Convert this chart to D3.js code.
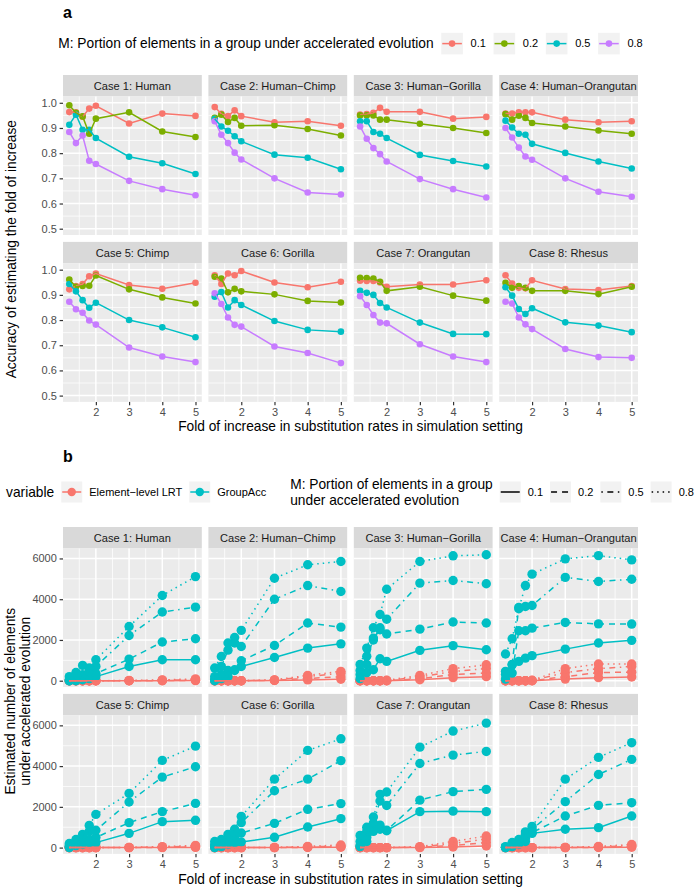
<!DOCTYPE html>
<html><head><meta charset="utf-8">
<script src="https://cdn.jsdelivr.net/npm/d3@7"></script>
<style>body{margin:0;background:#fff}svg{display:block}</style>
</head><body><svg id="c" width="700" height="888"></svg>
<script>
// ---------------- data ----------------
const xFold = [1.2, 1.4, 1.6, 1.8, 2, 3, 4, 5];
const xTicks = [2, 3, 4, 5];
const xMinor = [1.5, 2.5, 3.5, 4.5];
const caseLabels = ["Case 1: Human", "Case 2: Human\u2212Chimp", "Case 3: Human\u2212Gorilla", "Case 4: Human\u2212Orangutan",
  "Case 5: Chimp", "Case 6: Gorilla", "Case 7: Orangutan", "Case 8: Rhesus"];
const mLevels = ["0.1", "0.2", "0.5", "0.8"];
const variableLevels = ["Element\u2212level LRT", "GroupAcc"];
const accTicks = [0.5, 0.6, 0.7, 0.8, 0.9, 1.0];
const accMinor = [0.55, 0.65, 0.75, 0.85, 0.95];
const countTicks = [0, 2000, 4000, 6000];
const countMinor = [1000, 3000, 5000];
const xTitle = "Fold of increase in substitution rates in simulation setting";
const accTitle = "Accuracy of estimating the fold of increase";
const countTitle = ["Estimated number of elements", "under accelerated evolution"];
const mTitleA = "M: Portion of elements in a group under accelerated evolution";
const mTitleB = ["M: Portion of elements in a group", "under accelerated evolution"];

// panel a: accuracy, rows = M 0.1, 0.2, 0.5, 0.8
const accCase1 = [[0.963,0.962,0.945,0.977,0.988,0.918,0.957,0.948],[0.990,0.960,0.946,0.877,0.937,0.962,0.886,0.864],[0.913,0.953,0.893,0.893,0.860,0.786,0.760,0.717],[0.884,0.840,0.870,0.770,0.757,0.690,0.657,0.633]];
const accCase2 = [[0.983,0.956,0.947,0.970,0.947,0.923,0.927,0.909],[0.940,0.953,0.924,0.940,0.909,0.911,0.896,0.870],[0.936,0.906,0.889,0.867,0.847,0.794,0.782,0.736],[0.927,0.873,0.840,0.802,0.775,0.700,0.644,0.636]];
const accCase3 = [[0.953,0.955,0.960,0.980,0.964,0.964,0.937,0.944],[0.950,0.950,0.950,0.933,0.933,0.917,0.900,0.880],[0.927,0.927,0.884,0.877,0.860,0.793,0.769,0.747],[0.906,0.857,0.820,0.796,0.767,0.697,0.657,0.624]];
const accCase4 = [[0.957,0.957,0.962,0.962,0.962,0.933,0.923,0.927],[0.955,0.933,0.949,0.940,0.920,0.906,0.890,0.877],[0.929,0.902,0.877,0.873,0.837,0.801,0.767,0.739],[0.900,0.862,0.822,0.787,0.774,0.700,0.647,0.627]];
const accCase5 = [[0.922,0.935,0.943,0.974,0.985,0.939,0.924,0.948],[0.961,0.932,0.935,0.936,0.977,0.922,0.890,0.866],[0.943,0.914,0.879,0.849,0.869,0.800,0.771,0.732],[0.873,0.843,0.829,0.798,0.782,0.691,0.655,0.633]];
const accCase6 = [[0.978,0.943,0.985,0.978,0.995,0.949,0.930,0.952],[0.972,0.965,0.910,0.924,0.914,0.902,0.876,0.870],[0.893,0.911,0.850,0.879,0.860,0.796,0.761,0.754],[0.906,0.864,0.810,0.781,0.774,0.695,0.669,0.629]];
const accCase7 = [[0.956,0.955,0.955,0.949,0.932,0.941,0.941,0.958],[0.968,0.967,0.965,0.952,0.916,0.932,0.897,0.877],[0.916,0.908,0.900,0.868,0.850,0.790,0.745,0.744],[0.895,0.860,0.820,0.790,0.787,0.704,0.655,0.633]];
const accCase8 = [[0.978,0.945,0.928,0.926,0.958,0.923,0.919,0.935],[0.948,0.928,0.935,0.928,0.916,0.916,0.903,0.932],[0.930,0.897,0.844,0.824,0.847,0.791,0.778,0.752],[0.873,0.866,0.810,0.783,0.764,0.685,0.653,0.650]];

// panel b: GroupAcc counts, rows = M 0.1, 0.2, 0.5, 0.8
const grpCase1 = [[0,0,50,100,200,700,1030,1030],[0,100,200,300,350,1060,1900,2060],[50,200,300,450,700,2220,3370,3610],[200,400,750,620,1030,2660,4180,5110]];
const grpCase2 = [[0,100,200,500,700,1140,1600,1810],[50,300,500,540,980,1730,2830,2630],[200,700,1500,1850,1680,4000,4670,4380],[620,1190,1850,2120,2470,5030,5690,5850]];
const grpCase3 = [[100,400,540,1080,950,1490,1720,1520],[300,800,2090,2500,2290,2530,2880,2830],[500,1200,2000,2600,3020,4790,4920,4760],[800,1600,2600,3250,4490,5850,6130,6180]];
const grpCase4 = [[460,780,950,1110,1230,1550,1850,1980],[80,375,2450,2450,2580,2860,2790,2780],[300,800,3600,3640,3690,5070,4870,4980],[1310,2060,3530,4670,5230,5980,6140,5930]];
const grpCase5 = [[0,100,150,200,245,700,1275,1340],[50,200,300,400,500,1225,1765,2170],[100,300,500,800,850,2240,3460,3970],[200,400,650,1090,1630,2660,4280,4980]];
const grpCase6 = [[0,50,150,200,275,505,1010,1420],[50,150,300,500,715,1190,1880,2160],[150,300,500,760,1225,2790,3360,4270],[300,400,650,900,1530,3360,4770,5340]];
const grpCase7 = [[50,300,800,900,830,1765,1790,1765],[100,500,1000,1100,850,2330,2750,2860],[300,800,1200,2290,2070,4130,4540,4720],[600,1000,1500,2610,2730,4930,5720,6110]];
const grpCase8 = [[0,50,150,300,700,900,980,1550],[0,100,250,450,735,1550,2075,2205],[20,150,350,650,900,2255,3590,4330],[50,250,400,770,1040,3360,4430,5150]];

// panel b: Element-level LRT counts, rows = M 0.1, 0.2, 0.5, 0.8
const lrtCase1 = [[0,0,0,0,0,0,0,5],[0,0,0,0,0,0,5,20],[0,0,0,0,0,5,20,50],[0,0,0,0,0,10,40,90]];
const lrtCase2 = [[0,0,0,0,0,10,40,70],[0,0,0,0,0,20,110,200],[0,0,0,0,0,30,200,370],[0,0,0,0,0,40,260,460]];
const lrtCase3 = [[0,0,0,0,0,50,150,200],[0,0,0,0,0,100,300,380],[0,0,0,0,10,180,450,600],[0,0,0,0,20,260,590,780]];
const lrtCase4 = [[0,0,0,0,0,80,150,180],[0,0,0,0,0,200,400,420],[0,0,0,0,10,400,590,700],[0,0,0,0,20,590,820,820]];
const lrtCase5 = [[0,0,0,0,0,0,0,10],[0,0,0,0,0,0,10,30],[0,0,0,0,0,5,30,70],[0,0,0,0,0,10,50,110]];
const lrtCase6 = [[0,0,0,0,0,0,5,15],[0,0,0,0,0,0,15,40],[0,0,0,0,0,5,35,80],[0,0,0,0,0,10,60,130]];
const lrtCase7 = [[0,0,0,0,0,0,30,80],[0,0,0,0,0,20,100,250],[0,0,0,0,0,30,200,420],[0,0,0,0,0,50,300,570]];
const lrtCase8 = [[0,0,0,0,0,0,5,20],[0,0,0,0,0,0,15,50],[0,0,0,0,0,5,35,100],[0,0,0,0,0,10,60,150]];

const accAll = [accCase1, accCase2, accCase3, accCase4, accCase5, accCase6, accCase7, accCase8];
const grpAll = [grpCase1, grpCase2, grpCase3, grpCase4, grpCase5, grpCase6, grpCase7, grpCase8];
const lrtAll = [lrtCase1, lrtCase2, lrtCase3, lrtCase4, lrtCase5, lrtCase6, lrtCase7, lrtCase8];

// ---------------- styling ----------------
const FONT = '"Liberation Sans", Arial, Helvetica, sans-serif';
const mColors = ["#F8766D", "#7CAE00", "#00BFC4", "#C77CFF"];
const varColors = ["#F8766D", "#00BFC4"];
const mDash = [null, "6,5", "1.5,4.5,6,4.5", "1.5,4"];
const colLeft = [63, 208.4, 353.8, 499.2];
const panelW = 138.8, stripH = 21.5, panelH = 138.5, rowGap = 6.9;

const svg = d3.select("#c").attr("font-family", FONT);

function pad(ext) { const d = (ext[1] - ext[0]) * 0.05; return [ext[0] - d, ext[1] + d]; }
const x = d3.scaleLinear().domain(pad(d3.extent(xFold))).range([0, panelW]);
const yAcc = d3.scaleLinear().domain(pad([0.5, 1.0])).range([panelH, 0]);
const allCounts = grpAll.flat(2).concat(lrtAll.flat(2));
const yCnt = d3.scaleLinear().domain(pad(d3.extent(allCounts))).range([panelH, 0]);

function measure(txt, size) {
  const t = svg.append("text").attr("font-size", size).text(txt);
  const w = t.node().getComputedTextLength(); t.remove(); return w;
}

function facets(stripTop0, y, yMajor, yMinor, yFmt, draw) {
  let lastBottom = 0;
  for (let i = 0; i < 8; i++) {
    const r = Math.floor(i / 4), c = i % 4;
    const sTop = stripTop0 + r * (stripH + panelH + rowGap);
    const g = svg.append("g").attr("transform", `translate(${colLeft[c]},${sTop})`);
    g.append("rect").attr("width", panelW).attr("height", stripH).attr("fill", "#D9D9D9");
    g.append("text").attr("x", panelW / 2).attr("y", stripH / 2).attr("dy", "0.36em")
      .attr("text-anchor", "middle").attr("font-size", 11.1).attr("fill", "#1A1A1A").text(caseLabels[i]);
    const p = g.append("g").attr("transform", `translate(0,${stripH})`);
    p.append("rect").attr("width", panelW).attr("height", panelH).attr("fill", "#EBEBEB");
    p.selectAll(".ym").data(yMinor).join("line").attr("x1", 0).attr("x2", panelW)
      .attr("y1", d => y(d)).attr("y2", d => y(d)).attr("stroke", "#fff").attr("stroke-width", 0.75);
    p.selectAll(".xm").data(xMinor).join("line").attr("y1", 0).attr("y2", panelH)
      .attr("x1", d => x(d)).attr("x2", d => x(d)).attr("stroke", "#fff").attr("stroke-width", 0.75);
    p.selectAll(".yM").data(yMajor).join("line").attr("x1", 0).attr("x2", panelW)
      .attr("y1", d => y(d)).attr("y2", d => y(d)).attr("stroke", "#fff").attr("stroke-width", 1.5);
    p.selectAll(".xM").data(xTicks).join("line").attr("y1", 0).attr("y2", panelH)
      .attr("x1", d => x(d)).attr("x2", d => x(d)).attr("stroke", "#fff").attr("stroke-width", 1.5);
    const clip = "clip" + stripTop0 + "_" + i;
    p.append("clipPath").attr("id", clip).append("rect").attr("x", -6).attr("y", -6).attr("width", panelW + 12).attr("height", panelH + 12);
    draw(p.append("g").attr("clip-path", `url(#${clip})`), i);
    if (c === 0) {
      const ax = p.append("g").call(d3.axisLeft(y).tickValues(yMajor).tickFormat(yFmt).tickSize(3.4).tickPadding(2.75));
      styleAxis(ax);
    }
    if (r === 1) {
      const ax = p.append("g").attr("transform", `translate(0,${panelH})`)
        .call(d3.axisBottom(x).tickValues(xTicks).tickFormat(d3.format("d")).tickSize(3.4).tickPadding(2.75));
      styleAxis(ax);
    }
    lastBottom = sTop + stripH + panelH;
  }
  return lastBottom;
}
function styleAxis(ax) {
  ax.attr("font-family", FONT).attr("font-size", 11);
  ax.select(".domain").remove();
  ax.selectAll(".tick line").attr("stroke", "#333333").attr("stroke-width", 1.2);
  ax.selectAll(".tick text").attr("fill", "#4D4D4D");
}

// ---------------- panel a ----------------
svg.append("text").attr("x", 63).attr("y", 18).attr("font-size", 16).attr("font-weight", "bold").text("a");

const botA = facets(75, yAcc, accTicks, accMinor, d3.format(".1f"), (g, i) => {
  const line = d3.line().x((d, j) => x(xFold[j])).y(d => yAcc(d));
  accAll[i].forEach((vals, m) => {
    g.selectAll(null).data(vals).join("circle").attr("cx", (d, j) => x(xFold[j])).attr("cy", d => yAcc(d))
      .attr("r", 3.3).attr("fill", mColors[m]);
  });
  accAll[i].forEach((vals, m) => {
    g.append("path").attr("d", line(vals)).attr("fill", "none").attr("stroke", mColors[m]).attr("stroke-width", 1.5);
  });
});
svg.append("text").attr("x", 350.5).attr("y", botA + 29).attr("text-anchor", "middle").attr("font-size", 13.75).text(xTitle);
svg.append("text").attr("transform", `translate(16,${(96.5 + botA) / 2}) rotate(-90)`).attr("text-anchor", "middle")
  .attr("font-size", 13.75).text(accTitle);

// legend a
(function () {
  const g = svg.append("g");
  const cy = 43.6, gap = 7.7, key = 21.6;
  let cur = 0;
  g.append("text").attr("x", cur).attr("y", cy).attr("dy", "0.35em").attr("font-size", 13.75).text(mTitleA);
  cur += measure(mTitleA, 13.75) + gap;
  mLevels.forEach((lv, m) => {
    g.append("rect").attr("x", cur).attr("y", cy - key / 2).attr("width", key).attr("height", key).attr("fill", "#F2F2F2");
    g.append("line").attr("x1", cur + 1).attr("x2", cur + key - 1).attr("y1", cy).attr("y2", cy).attr("stroke", mColors[m]).attr("stroke-width", 1.5);
    g.append("circle").attr("cx", cur + key / 2).attr("cy", cy).attr("r", 3.3).attr("fill", mColors[m]);
    cur += key + gap;
    g.append("text").attr("x", cur).attr("y", cy).attr("dy", "0.35em").attr("font-size", 11).text(lv);
    cur += measure(lv, 11) + gap;
  });
  cur -= gap;
  g.attr("transform", `translate(${350.5 - cur / 2},0)`);
})();

// ---------------- panel b ----------------
svg.append("text").attr("x", 63).attr("y", 462).attr("font-size", 16).attr("font-weight", "bold").text("b");

const botB = facets(527, yCnt, countTicks, countMinor, d3.format("d"), (g, i) => {
  const line = d3.line().x((d, j) => x(xFold[j])).y(d => yCnt(d));
  [lrtAll[i], grpAll[i]].forEach((set, v) => {
    set.forEach(vals => {
      g.selectAll(null).data(vals).join("circle").attr("cx", (d, j) => x(xFold[j])).attr("cy", d => yCnt(d))
        .attr("r", 4.7).attr("fill", varColors[v]);
    });
  });
  [grpAll[i], lrtAll[i]].forEach((set, k) => {
    const v = k === 0 ? 1 : 0;
    set.forEach((vals, m) => {
      g.append("path").attr("d", line(vals)).attr("fill", "none").attr("stroke", varColors[v])
        .attr("stroke-width", 1.5).attr("stroke-dasharray", mDash[m]);
    });
  });
});
svg.append("text").attr("x", 350.5).attr("y", botB + 30).attr("text-anchor", "middle").attr("font-size", 13.75).text(xTitle);
const yt = svg.append("text").attr("transform", `translate(0,${(548.5 + botB) / 2}) rotate(-90)`).attr("text-anchor", "middle").attr("font-size", 13.75);
yt.append("tspan").attr("x", 0).attr("y", 15).text(countTitle[0]);
yt.append("tspan").attr("x", 0).attr("y", 30).text(countTitle[1]);

// legend b
(function () {
  const g = svg.append("g");
  const cy = 492, gap = 7, key = 21;
  let cur = 0;
  g.append("text").attr("x", cur).attr("y", cy).attr("dy", "0.35em").attr("font-size", 13.75).text("variable");
  cur += measure("variable", 13.75) + gap;
  variableLevels.forEach((lv, v) => {
    g.append("rect").attr("x", cur).attr("y", cy - key / 2).attr("width", key).attr("height", key).attr("fill", "#F2F2F2");
    g.append("line").attr("x1", cur + 1).attr("x2", cur + key - 1).attr("y1", cy).attr("y2", cy).attr("stroke", varColors[v]).attr("stroke-width", 1.5);
    g.append("circle").attr("cx", cur + key / 2).attr("cy", cy).attr("r", 4.2).attr("fill", varColors[v]);
    cur += key + gap;
    g.append("text").attr("x", cur).attr("y", cy).attr("dy", "0.35em").attr("font-size", 11).text(lv);
    cur += measure(lv, 11) + gap;
  });
  cur += 24 - gap;
  const tt = g.append("text").attr("font-size", 13.75);
  tt.append("tspan").attr("x", cur).attr("y", cy - 8).attr("dy", "0.35em").text(mTitleB[0]);
  tt.append("tspan").attr("x", cur).attr("y", cy + 8).attr("dy", "0.35em").text(mTitleB[1]);
  cur += Math.max(measure(mTitleB[0], 13.75), measure(mTitleB[1], 13.75)) + gap;
  mLevels.forEach((lv, m) => {
    g.append("rect").attr("x", cur).attr("y", cy - key / 2).attr("width", key).attr("height", key).attr("fill", "#F2F2F2");
    g.append("line").attr("x1", cur + 1).attr("x2", cur + key - 1).attr("y1", cy).attr("y2", cy).attr("stroke", "#000")
      .attr("stroke-width", 1.5).attr("stroke-dasharray", mDash[m]);
    cur += key + gap;
    g.append("text").attr("x", cur).attr("y", cy).attr("dy", "0.35em").attr("font-size", 11).text(lv);
    cur += measure(lv, 11) + gap;
  });
  cur -= gap;
  const start = Math.max(3, 350 - cur / 2);
  g.attr("transform", `translate(${Math.min(start, 697 - cur)},0)`);
})();
</script></body></html>
